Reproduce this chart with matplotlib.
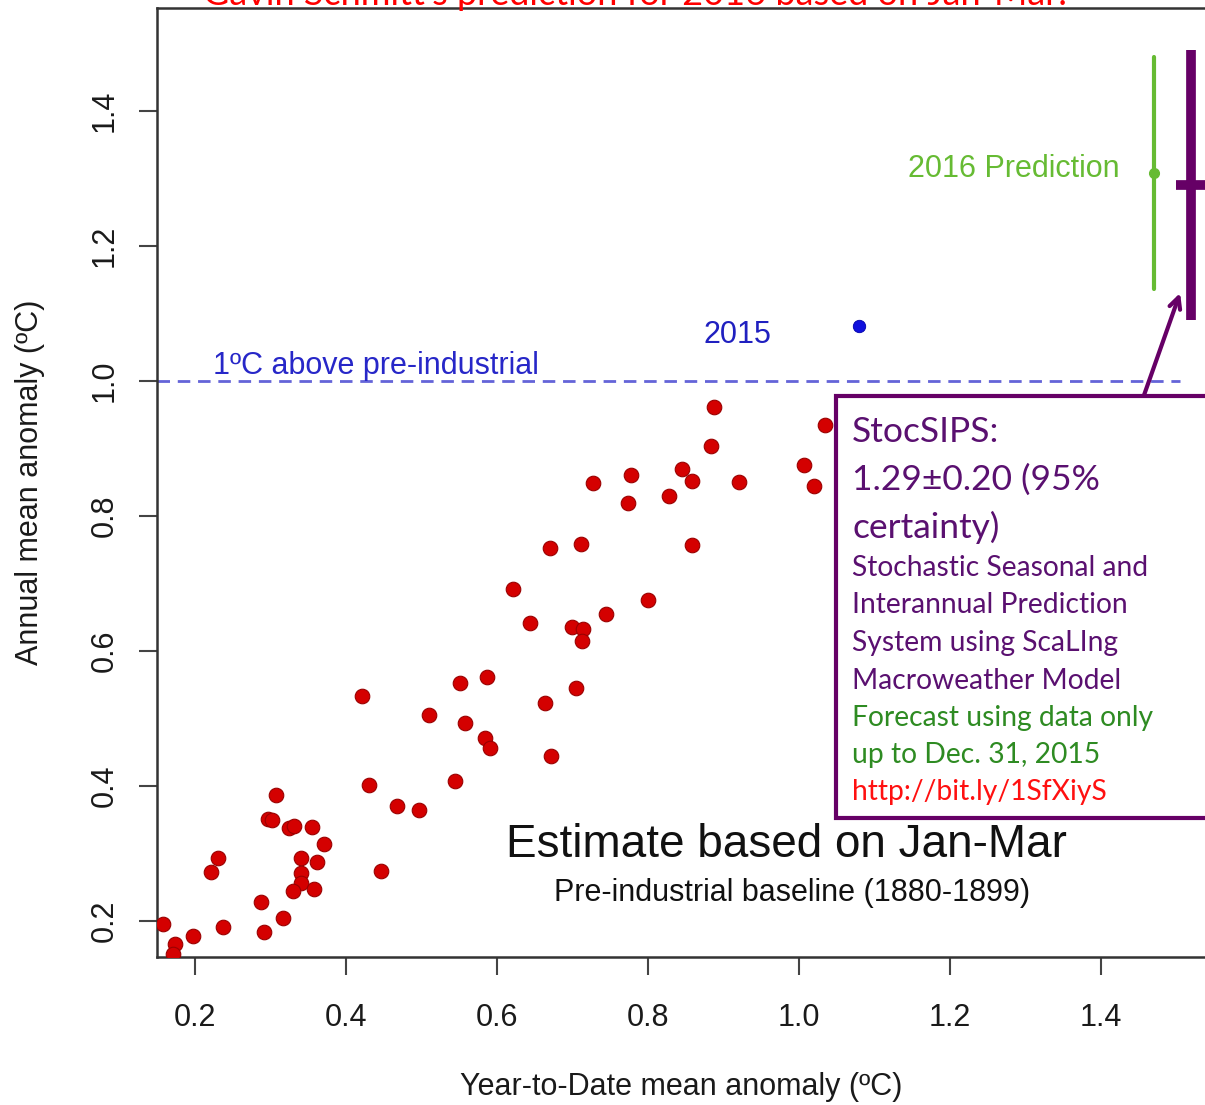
import matplotlib
matplotlib.use("Agg")
import matplotlib.pyplot as plt
from matplotlib.patches import Rectangle

# Year-to-date (Jan-Mar) anomaly vs annual mean anomaly, deg C
ytd = [0.157, 0.173, 0.171, 0.198, 0.237, 0.221, 0.231, 0.287, 0.291, 0.317,
       0.307, 0.297, 0.302, 0.325, 0.331, 0.355, 0.371, 0.341, 0.361, 0.341,
       0.341, 0.330, 0.358, 0.447, 0.421, 0.430, 0.467, 0.497, 0.510, 0.544,
       0.551, 0.558, 0.587, 0.584, 0.591, 0.664, 0.705, 0.671, 0.727, 0.670,
       0.711, 0.621, 0.644, 0.700, 0.714, 0.713, 0.744, 0.887, 0.883, 0.777,
       0.774, 0.845, 0.858, 0.828, 0.921, 0.858, 0.800, 1.034, 1.007, 1.020]
annual = [0.196, 0.166, 0.151, 0.178, 0.192, 0.273, 0.294, 0.228, 0.184, 0.205,
          0.387, 0.351, 0.350, 0.338, 0.341, 0.340, 0.314, 0.293, 0.288, 0.271,
          0.256, 0.245, 0.247, 0.275, 0.534, 0.401, 0.370, 0.365, 0.506, 0.407,
          0.552, 0.493, 0.562, 0.471, 0.457, 0.523, 0.545, 0.445, 0.849, 0.752,
          0.759, 0.692, 0.641, 0.636, 0.633, 0.615, 0.655, 0.961, 0.903, 0.861,
          0.819, 0.869, 0.852, 0.829, 0.850, 0.757, 0.675, 0.935, 0.875, 0.844]

ytd_2015 = 1.080
annual_2015 = 1.081

# Schmidt 2016 prediction (green) and StocSIPS (purple)
gs_x, gs_mid, gs_lo, gs_hi = 1.470, 1.307, 1.136, 1.480
ss_x, ss_mid, ss_err = 1.520, 1.29, 0.20

xticks = [0.2, 0.4, 0.6, 0.8, 1.0, 1.2, 1.4]
yticks = [0.2, 0.4, 0.6, 0.8, 1.0, 1.2, 1.4]

W, H = 1205, 1105
fig = plt.figure(figsize=(W / 100, H / 100), dpi=100)
ax = fig.add_axes([157 / W, 1 - 957 / H, 1 - 157 / W, (957 - 8) / H])

def fx(px):
    return px / W

def fy(py):
    return 1 - py / H

helv = "Liberation Sans"
cal = "Lato"

ax.set_xlim(0.1497, 1.538)
ax.set_ylim(0.147, 1.552)
ax.set_xticks(xticks)
ax.set_yticks(yticks)
ax.set_xticklabels([f"{t:.1f}" for t in xticks], fontsize=22, family=helv, color="#1a1a1a")
ax.set_yticklabels([f"{t:.1f}" for t in yticks], fontsize=22, family=helv, color="#1a1a1a",
                   rotation=90, va="center")
ax.tick_params(direction="out", length=13, width=1.5, color="#444444")
ax.tick_params(axis="x", pad=20)
ax.tick_params(axis="y", pad=14)
for s in ["left", "bottom", "top"]:
    ax.spines[s].set_color("#333333")
    ax.spines[s].set_linewidth(1.8)
ax.spines["right"].set_visible(False)

ax.set_xlabel("Year-to-Date mean anomaly (ºC)", fontsize=22, family=helv, color="#1a1a1a", labelpad=28)
ax.set_ylabel("Annual mean anomaly (ºC)", fontsize=22, family=helv, color="#1a1a1a", labelpad=32)

# 1 degree line
ax.plot([0.1497, 1.505], [1.0, 1.0], ls="--", color="#6464d8", lw=2.0, dashes=(4.5, 2.8))
ax.text(fx(213), fy(366), "1ºC above pre-industrial", transform=fig.transFigure,
        fontsize=22, family=helv, color="#2727c8", va="center", ha="left")

ax.scatter(ytd, annual, s=110, c="#d40000", edgecolors="#9a0000", linewidths=0.8, zorder=3)
ax.scatter([ytd_2015], [annual_2015], s=80, c="#1010dd", edgecolors="#0000aa", linewidths=0.6, zorder=3)
ax.text(fx(737), fy(335), "2015", transform=fig.transFigure, fontsize=22, family=helv,
        color="#2020c0", va="center", ha="center")

# 2016 predictions
ax.plot([gs_x, gs_x], [gs_lo, gs_hi], color="#66bb33", lw=3, solid_capstyle="round", clip_on=False)
ax.plot([gs_x], [gs_mid], "o", color="#66bb33", ms=7, clip_on=False)
ax.text(fx(1120), fy(169), "2016 Prediction", transform=fig.transFigure, fontsize=22,
        family=helv, color="#66bb33", va="center", ha="right")
ax.plot([ss_x, ss_x], [ss_mid - ss_err, ss_mid + ss_err], color="#660066", lw=7,
        solid_capstyle="butt", clip_on=False)
ax.plot([ss_x - 0.021, ss_x + 0.021], [ss_mid, ss_mid], color="#660066", lw=7,
        solid_capstyle="butt", clip_on=False)

ax.annotate("", xy=(1.505, 1.130), xytext=(1.456, 0.975),
            arrowprops=dict(arrowstyle="->,head_length=0.8,head_width=0.4",
                            color="#660066", lw=3, shrinkA=0, shrinkB=0))

# StocSIPS box
box = Rectangle((fx(836), fy(818)), fx(1240) - fx(836), fy(396) - fy(818),
                transform=fig.transFigure, facecolor="white", edgecolor="#660066",
                lw=3, zorder=5, clip_on=False)
fig.patches.append(box)

big = ["StocSIPS:", "1.29±0.20 (95%", "certainty)"]
big_y = [432, 480, 527]
for t, y in zip(big, big_y):
    fig.text(fx(852), fy(y), t, fontsize=25.5, family=cal, color="#5a1070", va="center",
             ha="left", zorder=6)

small = ["Stochastic Seasonal and", "Interannual Prediction", "System using ScaLIng",
         "Macroweather Model", "Forecast using data only", "up to Dec. 31, 2015",
         "http://bit.ly/1SfXiyS"]
small_c = ["#5a1070"] * 4 + ["#2e8b22"] * 2 + ["#ff1010"]
small_y = [568, 605, 643, 681, 718, 755, 792]
for t, c, y in zip(small, small_c, small_y):
    fig.text(fx(852), fy(y), t, fontsize=20.3, family=cal, color=c, va="center",
             ha="left", zorder=6)

fig.text(fx(786), fy(845), "Estimate based on Jan-Mar", fontsize=33, family=helv,
         color="#111111", ha="center", va="center")
fig.text(fx(792), fy(893), "Pre-industrial baseline (1880-1899)", fontsize=22, family=helv,
         color="#111111", ha="center", va="center")

fig.text(fx(635), fy(5), "Gavin Schmitt's prediction for 2016 based on Jan-Mar.",
         fontsize=26, family=cal, color="#ff0000", ha="center", va="baseline")

fig.savefig("out.png", dpi=100)
